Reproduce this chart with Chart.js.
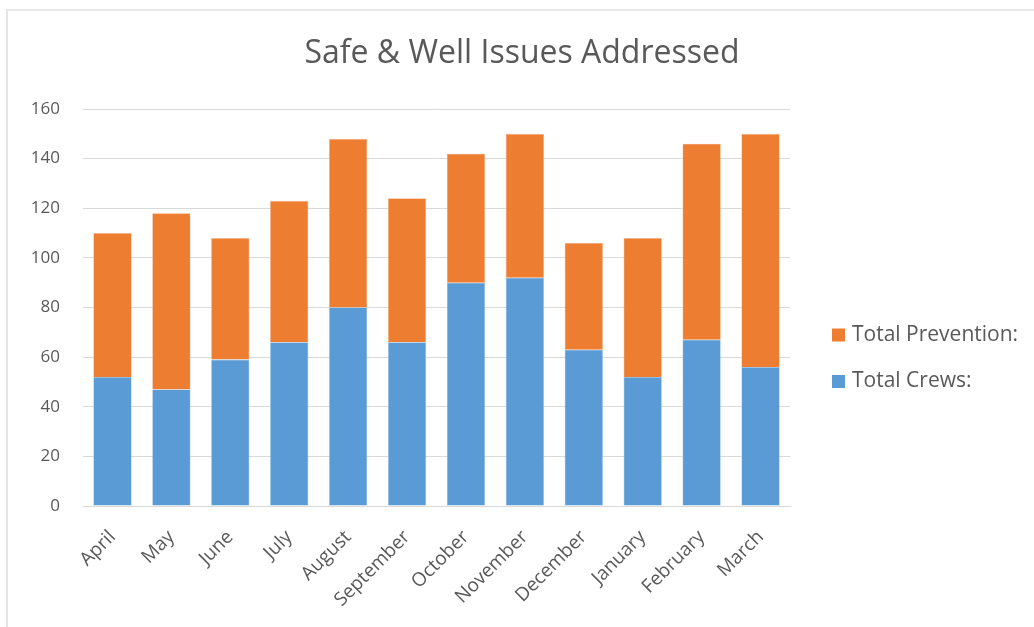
<!DOCTYPE html>
<html lang="en">
<head>
  <meta charset="UTF-8" />
  <title>Safe &amp; Well Issues Addressed</title>
  <script src="https://cdn.jsdelivr.net/npm/chart.js"></script>
  <style>
    html, body { margin: 0; padding: 0; background: #fff; }
    #wrap { position: relative; width: 1034px; height: 627px; overflow: hidden; }
    #frame {
      position: absolute; left: 6px; top: 9px; right: -10px; bottom: -10px;
      border-left: 2px solid #e6e6e6; border-top: 2px solid #e6e6e6;
    }
    #salesChart { position: absolute; left: 0; top: 0; }
  </style>
</head>
<body>
  <div id="wrap">
    <div id="frame"></div>
    <canvas id="salesChart" width="1034" height="627"></canvas>
  </div>

  <script>
    const months = ['April', 'May', 'June', 'July', 'August', 'September',
                    'October', 'November', 'December', 'January', 'February', 'March'];
    const crews = [52, 47, 59, 66, 80, 66, 90, 92, 63, 52, 67, 56];
    const prevention = [58, 71, 49, 57, 68, 58, 52, 58, 43, 56, 79, 94];
    const yTicks = [0, 20, 40, 60, 80, 100, 120, 140, 160];

    const textColor = '#595959';
    const fontFamily = "'Open Sans', 'DejaVu Sans', sans-serif";

    // legend drawn by hand in the space kept free on the right
    const sideLegend = {
      id: 'sideLegend',
      afterDraw(chart) {
        const ctx = chart.ctx;
        const items = chart.data.datasets.slice().reverse();
        ctx.save();
        ctx.font = '21px ' + fontFamily;
        ctx.textBaseline = 'middle';
        items.forEach((ds, i) => {
          const y = 335 + i * 46.5;
          ctx.fillStyle = ds.backgroundColor;
          ctx.fillRect(832, y - 6.5, 13, 13);
          ctx.fillStyle = textColor;
          ctx.fillText(ds.label, 852, y);
        });
        ctx.restore();
      }
    };

    new Chart(document.getElementById('salesChart'), {
      type: 'bar',
      data: {
        labels: months,
        datasets: [
          { label: 'Total Crews:', data: crews, backgroundColor: '#5b9bd5',
            borderColor: '#9cc3e6', borderWidth: 0.6 },
          { label: 'Total Prevention:', data: prevention, backgroundColor: '#ed7d31',
            borderColor: '#f4b183', borderWidth: 0.6 }
        ]
      },
      options: {
        responsive: false,
        animation: false,
        datasets: { bar: { categoryPercentage: 1, barPercentage: 0.65 } },
        layout: { padding: { left: 10, right: 0, top: 0, bottom: 0 } },
        plugins: {
          legend: { display: false },
          tooltip: { enabled: false },
          title: {
            display: true,
            text: 'Safe & Well Issues Addressed',
            color: textColor,
            font: { family: fontFamily, size: 32, weight: 'normal' },
            padding: { top: 35, bottom: 35.6 }
          }
        },
        scales: {
          x: {
            stacked: true,
            grid: { display: false },
            border: { display: true, color: '#d9d9d9', width: 1 },
            ticks: {
              color: textColor,
              font: { family: fontFamily, size: 19 },
              minRotation: 45,
              maxRotation: 45,
              padding: 12
            },
            afterFit(scale) { scale.height = 121; }
          },
          y: {
            stacked: true,
            min: 0,
            max: 160,
            afterBuildTicks(scale) { scale.ticks = yTicks.map(v => ({ value: v })); },
            grid: { color: '#d9d9d9', lineWidth: 1, drawTicks: false },
            border: { display: false },
            ticks: {
              color: textColor,
              font: { family: fontFamily, size: 17 },
              padding: 23
            },
            afterFit(scale) { scale.width = 73; }
          },
          // empty axis on the right that only keeps room for the legend
          legendRoom: {
            type: 'linear',
            position: 'right',
            display: true,
            grid: { display: false },
            border: { display: false },
            ticks: { display: false },
            afterFit(scale) { scale.width = 244; }
          }
        }
      },
      plugins: [sideLegend]
    });
  </script>
</body>
</html>
